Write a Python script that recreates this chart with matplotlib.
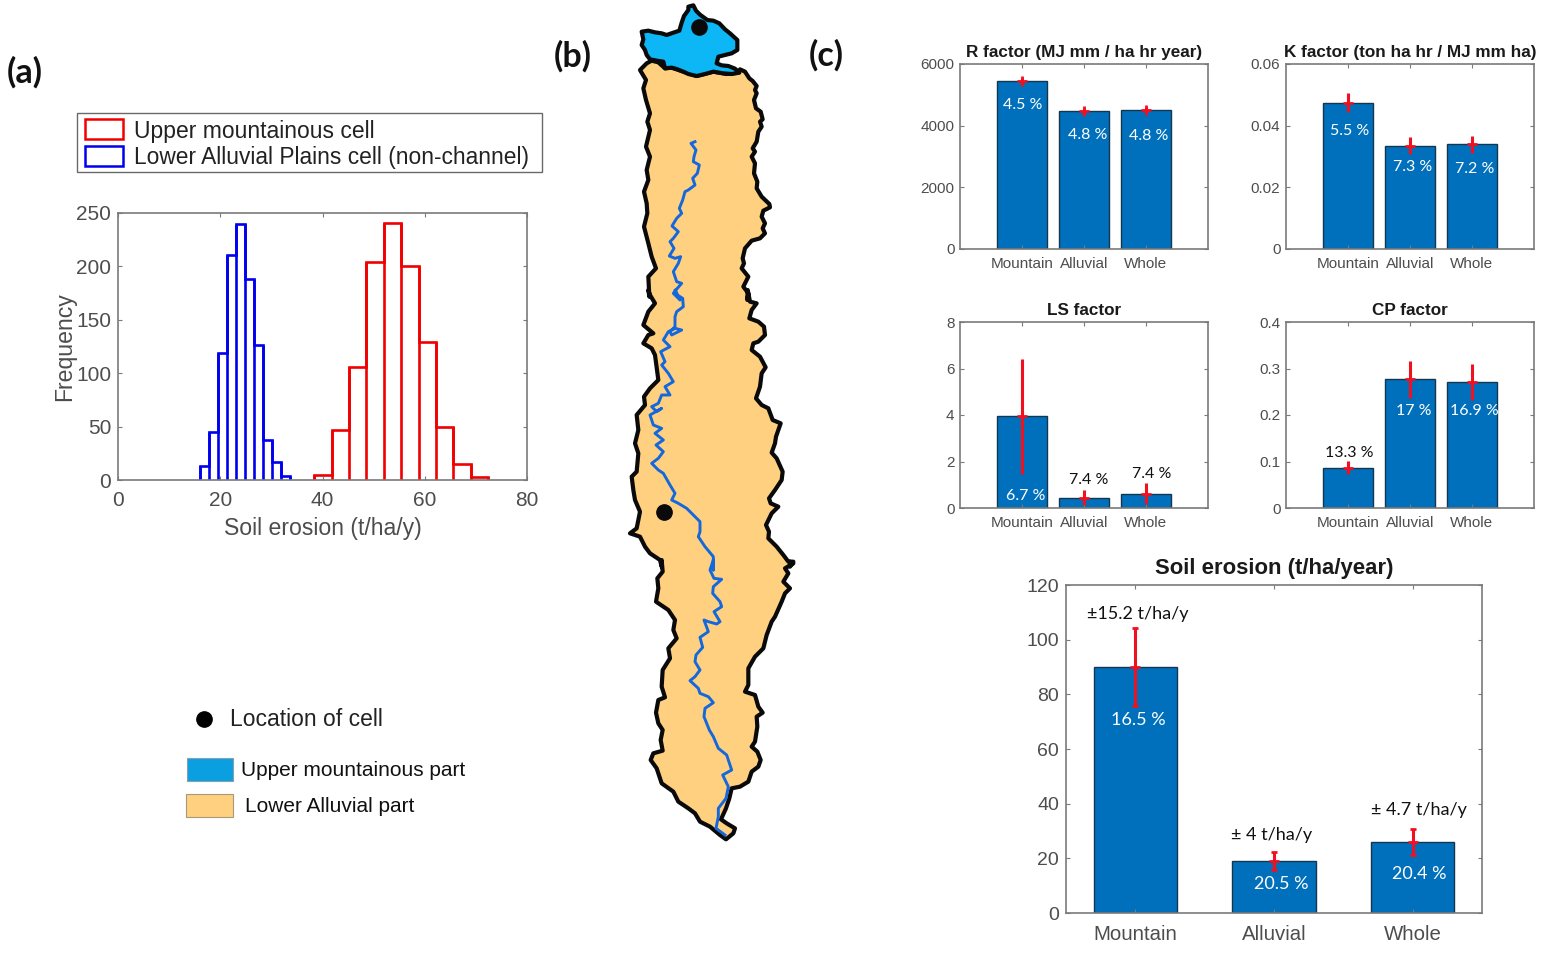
import numpy as np
import matplotlib
matplotlib.use("Agg")
import matplotlib.pyplot as plt
from matplotlib.patches import Rectangle

W, H = 1553, 958
BAR_BLUE = "#0070BC"
AXIS_GREY = "#7a7a7a"
TEXT_GREY = "#4d4d4d"

# panel (a) histograms
blue_edges = [16.1, 17.85, 19.6, 21.3, 23.05, 24.8, 26.55, 28.3, 30.05, 31.8, 33.55]
blue_counts = [13, 45, 119, 211, 240, 188, 126, 37, 17, 4]
red_edges = [38.4, 41.8, 45.2, 48.6, 52.0, 55.4, 58.8, 62.2, 65.6, 69.0, 72.4]
red_counts = [5, 47, 106, 204, 241, 200, 129, 50, 15, 3]

# panel (c) bars
categories = ["Mountain", "Alluvial", "Whole"]
r_vals = [5450, 4470, 4500]
r_err = [90, 90, 90]
k_vals = [0.0475, 0.0335, 0.034]
k_err = [0.003, 0.0027, 0.0028]
ls_vals = [3.95, 0.45, 0.62]
ls_err = [2.47, 0.34, 0.44]
cp_vals = [0.087, 0.277, 0.271]
cp_err = [0.014, 0.04, 0.038]
soil_vals = [90, 19, 26]
soil_err = [14.3, 3.3, 4.6]

# map in three pieces (3x, y start of each piece), converted to pixels below
upper_trace = [(65, 95), (85, 92), (105, 97), (125, 100), (140, 105), (160, 98), (178, 92), (185, 68),
               (192, 48), (205, 30), (205, 20), (220, 16), (228, 32), (240, 44), (262, 60), (280, 62),
               (298, 70), (315, 88), (330, 100), (352, 120), (352, 150), (335, 160), (315, 165),
               (295, 170), (290, 190), (305, 196), (325, 198), (345, 206), (358, 218), (335, 222),
               (310, 220), (280, 215), (255, 222), (230, 228), (205, 222), (190, 215), (170, 207),
               (155, 203), (135, 205), (130, 185), (110, 182), (90, 178), (80, 165), (75, 150),
               (65, 135), (70, 118), (65, 95)]
top_edge = [(60, 210), (80, 190), (95, 182), (115, 187), (135, 205), (155, 203), (190, 215), (230, 228),
            (280, 215), (320, 222), (355, 218), (360, 208)]
right_1 = [(375, 215), (388, 235), (398, 243), (410, 258), (405, 270), (410, 280), (402, 300), (408, 325),
           (422, 335), (428, 358), (420, 365), (425, 380), (415, 395), (410, 425), (398, 445), (405, 455),
           (395, 470), (405, 490), (402, 520), (412, 545), (410, 565), (425, 590), (448, 612), (450, 622),
           (430, 632), (425, 650), (435, 670), (428, 685), (435, 700), (420, 715), (395, 722), (375, 745),
           (368, 775), (372, 790), (365, 805), (385, 830), (375, 850), (370, 860), (385, 880), (382, 900)]
right_2 = [(383, 0), (390, 35), (410, 40), (395, 60), (388, 85), (415, 95), (432, 110), (435, 135),
           (415, 155), (400, 160), (395, 180), (420, 200), (437, 232), (425, 250), (420, 290), (408, 325),
           (425, 345), (445, 355), (458, 390), (482, 400), (475, 420), (468, 440), (465, 460), (455, 488),
           (470, 505), (488, 545), (485, 570), (465, 600), (447, 625), (452, 640), (475, 650), (455, 670),
           (438, 705), (447, 725), (445, 745), (470, 770), (490, 795), (505, 815), (520, 815), (510, 830)]
right_3 = [(510, 5), (520, 10), (495, 25), (505, 40), (490, 65), (510, 85), (495, 100), (485, 125),
           (465, 170), (455, 185), (440, 225), (430, 265), (405, 290), (385, 325), (385, 375), (375, 395),
           (405, 405), (415, 440), (428, 458), (410, 470), (412, 500), (405, 545), (395, 560), (412, 575),
           (422, 600), (415, 620), (395, 635), (385, 665), (360, 680), (335, 685), (328, 715), (318, 745),
           (303, 778), (320, 790), (345, 805), (340, 820), (318, 838)]
left_3 = [(300, 825), (270, 800), (240, 785), (225, 760), (205, 745), (175, 725), (160, 695), (125, 670),
          (110, 625), (92, 600), (100, 580), (128, 572), (122, 540), (128, 510), (115, 490), (108, 458),
          (115, 420), (135, 412), (125, 380), (128, 330), (150, 295), (145, 265), (170, 235), (160, 210),
          (165, 180), (145, 150), (108, 125), (115, 85), (112, 55), (128, 35), (125, 0)]
left_2 = [(125, 830), (120, 810), (90, 790), (75, 770), (60, 740), (30, 730), (50, 715), (55, 690),
          (60, 665), (45, 630), (40, 600), (35, 560), (50, 545), (55, 490), (45, 460), (55, 420), (50, 375),
          (75, 345), (72, 320), (90, 295), (115, 270), (105, 195), (95, 175), (70, 160), (85, 135),
          (100, 130), (70, 105), (85, 65), (105, 40), (90, 15), (85, 0)]
left_1 = [(88, 890), (85, 830), (108, 805), (95, 770), (85, 730), (72, 680), (82, 640), (80, 610), (72, 575),
          (85, 540), (80, 510), (90, 470), (78, 440), (90, 390), (82, 365), (90, 340), (78, 300), (70, 265),
          (78, 240), (60, 210)]
river_1 = [(225, 425), (213, 430), (228, 450), (222, 470), (220, 485), (238, 495), (232, 520), (218, 535),
           (225, 555), (205, 570), (195, 575), (188, 600), (178, 625), (185, 640), (170, 655), (156, 678),
           (175, 695), (160, 715), (150, 725), (162, 745), (148, 768), (165, 775), (182, 770), (175, 790),
           (160, 815), (170, 845), (185, 850), (172, 865), (160, 880), (180, 900)]
river_2 = [(165, 0), (172, 15), (188, 25), (190, 50), (170, 65), (165, 80), (165, 110), (150, 125), (155, 135),
           (185, 120), (165, 115), (145, 125), (130, 150), (150, 170), (122, 185), (135, 215), (125, 225),
           (145, 250), (160, 275), (135, 290), (150, 315), (125, 315), (115, 340), (95, 350), (110, 365),
           (125, 355), (90, 375), (100, 405), (125, 415), (105, 430), (130, 450), (108, 465), (130, 485),
           (115, 505), (95, 520), (115, 540), (130, 550), (150, 585), (165, 610), (155, 630), (175, 640),
           (200, 655), (215, 670), (240, 695), (240, 725), (235, 740), (255, 770), (280, 800), (280, 840)]
river_3 = [(280, 0), (270, 30), (282, 55), (305, 58), (280, 80), (278, 100), (300, 125), (305, 140), (282, 155),
           (300, 185), (290, 192), (265, 185), (252, 180), (265, 215), (240, 232), (248, 262), (228, 285),
           (225, 305), (240, 330), (225, 350), (210, 362), (235, 385), (240, 400), (265, 410), (280, 428),
           (255, 445), (252, 470), (268, 510), (280, 530), (295, 565), (320, 585), (335, 630), (308, 645),
           (325, 680), (318, 715), (295, 745), (295, 770), (288, 805), (315, 825)]
cell_x = [699, 664]
cell_y = [27, 512]


def to_px(trace, top):
    # crops were 3x, starting at x=620 and the given y
    return [(620 + x / 3, top + y / 3) for x, y in trace]


upper_part = to_px(upper_trace, 0)
lower_part = (to_px(top_edge + right_1, 0) + to_px(right_2, 290) + to_px(right_3, 560)
              + to_px(left_3, 560) + to_px(left_2, 290) + to_px(left_1, 0))
river = to_px(river_1, 0) + to_px(river_2, 290) + to_px(river_3, 560)

fig = plt.figure(figsize=(W / 100, H / 100), dpi=100)


def add_axes(left, top, right, bottom):
    return fig.add_axes([left / W, 1 - bottom / H, (right - left) / W, (bottom - top) / H])


def style_axes(ax, tick_size, xpad=6, ypad=5):
    for s in ax.spines.values():
        s.set_color(AXIS_GREY)
        s.set_linewidth(1.2)
    ax.tick_params(direction="in", top=True, right=True, length=3, width=0.8, color=AXIS_GREY,
                   labelsize=tick_size, labelcolor=TEXT_GREY)
    ax.tick_params(axis="x", pad=xpad)
    ax.tick_params(axis="y", pad=ypad)


def bar_panel(box, vals, err, ymax, yticks, ylabels, title, xlim, width, tick_size, title_size, cap,
              xpad=6, ypad=4, title_pad=5, cat_size=None):
    ax = add_axes(*box)
    x = np.arange(1, 4)
    ax.bar(x, vals, width, color=BAR_BLUE, edgecolor="#14364f", linewidth=1)
    ax.errorbar(x, vals, yerr=err, fmt="none", ecolor="#f01020", elinewidth=2.2,
                capsize=cap, capthick=2, zorder=5)
    ax.plot(x, vals, "+", color="#f01020", ms=7, mew=2, zorder=5)
    ax.set_xlim(*xlim)
    ax.set_ylim(0, ymax)
    ax.set_yticks(yticks)
    ax.set_yticklabels(ylabels)
    ax.set_xticks(x)
    ax.set_xticklabels(categories)
    style_axes(ax, tick_size, xpad, ypad)
    if cat_size:
        ax.tick_params(axis="x", labelsize=cat_size)
    ax.set_title(title, fontsize=title_size, fontweight="bold", color="#1a1a1a", pad=title_pad)
    return ax


plt.rcParams["font.family"] = ["Liberation Sans", "DejaVu Sans"]

# (a) histogram
ax_hist = add_axes(118, 213, 527, 480)
ax_hist.stairs(blue_counts, blue_edges, color="#0000ee", linewidth=1.9)
ax_hist.stairs(red_counts, red_edges, color="#f00000", linewidth=1.9)
for edges, counts, c in [(blue_edges, blue_counts, "#0000ee"), (red_edges, red_counts, "#f00000")]:
    ax_hist.vlines(edges[1:-1], 0, np.maximum(counts[:-1], counts[1:]), color=c, linewidth=1.9)
    ax_hist.vlines([edges[0], edges[-1]], 0, [counts[0], counts[-1]], color=c, linewidth=1.9)
ax_hist.set_xlim(0, 80)
ax_hist.set_ylim(0, 250)
ax_hist.set_xticks([0, 20, 40, 60, 80])
ax_hist.set_yticks([0, 50, 100, 150, 200, 250])
style_axes(ax_hist, 15, xpad=8, ypad=5)
ax_hist.set_xlabel("Soil erosion (t/ha/y)", fontsize=16.6, color=TEXT_GREY, labelpad=5)
ax_hist.set_ylabel("Frequency", fontsize=16.6, color=TEXT_GREY, labelpad=0)

# (c) small bars
bar_panel((960, 64, 1208, 249), r_vals, r_err, 6000, [0, 2000, 4000, 6000],
          ["0", "2000", "4000", "6000"], "R factor (MJ mm / ha hr year)", (0, 4), 0.8, 11, 12.3, 0)
bar_panel((1286, 64, 1534, 249), k_vals, k_err, 0.06, [0, 0.02, 0.04, 0.06],
          ["0", "0.02", "0.04", "0.06"], "K factor (ton ha hr / MJ mm ha)", (0, 4), 0.8, 11, 12.3, 0)
bar_panel((960, 322, 1208, 508), ls_vals, ls_err, 8, [0, 2, 4, 6, 8],
          ["0", "2", "4", "6", "8"], "LS factor", (0, 4), 0.8, 11, 12.3, 0)
bar_panel((1286, 322, 1534, 508), cp_vals, cp_err, 0.4, [0, 0.1, 0.2, 0.3, 0.4],
          ["0", "0.1", "0.2", "0.3", "0.4"], "CP factor", (0, 4), 0.8, 11, 12.3, 0)
bar_panel((1066, 585, 1482, 913), soil_vals, soil_err, 120, [0, 20, 40, 60, 80, 100, 120],
          ["0", "20", "40", "60", "80", "100", "120"], "Soil erosion (t/ha/year)", (0.5, 3.5), 0.6,
          14, 15.9, 2, xpad=9, ypad=5, title_pad=8, cat_size=14.7)

# overlay in picture pixels for the map, legends and labels
page = fig.add_axes([0, 0, 1, 1], zorder=10)
page.set_xlim(0, W)
page.set_ylim(H, 0)
page.axis("off")
page.patch.set_alpha(0)

page.fill(*zip(*lower_part), facecolor="#FFD07F", edgecolor="#0a0a0a", linewidth=3, joinstyle="round")
page.fill(*zip(*upper_part), facecolor="#0DB7F5", edgecolor="#0a0a0a", linewidth=3, joinstyle="round")
page.plot(*zip(*river), color="#1568DC", linewidth=2.1, solid_joinstyle="round")
page.plot(cell_x, cell_y, "o", color="#0a0a0a", ms=11)

# panel letters
for x, y, s in [(25, 72, "(a)"), (573, 56, "(b)"), (826, 55, "(c)")]:
    page.text(x, y, s, fontsize=24.5, fontweight="bold", family="Lato", ha="center", va="center", color="#111111")

# histogram legend
page.add_patch(Rectangle((77, 113), 465, 59, fc="white", ec="#6a6a6a", lw=1))
page.add_patch(Rectangle((85, 119), 38, 20, fc="white", ec="#f00000", lw=1.8))
page.add_patch(Rectangle((85, 146), 38, 20, fc="white", ec="#0000ee", lw=1.8))
page.text(134, 131, "Upper mountainous cell", fontsize=16.5, va="center", color="#222222")
page.text(134, 157, "Lower Alluvial Plains cell (non-channel)", fontsize=16.4, va="center", color="#222222")

# map legend
page.plot([204], [719], "o", color="black", ms=11)
page.text(230, 720, "Location of cell", fontsize=16.5, va="center", color="#222222")
page.add_patch(Rectangle((187, 758), 46, 23, fc="#0A9FE0", ec="#8aa0b0", lw=0.8))
page.text(241, 771, "Upper mountainous part", fontsize=15, va="center", color="#111111")
page.add_patch(Rectangle((186, 794), 47, 23, fc="#FFD07F", ec="#a89a78", lw=0.8))
page.text(245, 806, "Lower Alluvial part", fontsize=15, va="center", color="#111111")

# percentages on the bars
white_small = [(1023, 105, "4.5 %"), (1088, 135, "4.8 %"), (1149, 136, "4.8 %"),
               (1350, 131, "5.5 %"), (1413, 167, "7.3 %"), (1475, 169, "7.2 %"),
               (1026, 496, "6.7 %"), (1414, 411, "17 %"), (1474, 411, "16.9 %")]
for x, y, s in white_small:
    page.text(x, y, s, fontsize=11.5, family="Lato", color="white", ha="center", va="center")
for x, y, s in [(1089, 480, "7.4 %"), (1152, 474, "7.4 %"), (1349, 453, "13.3 %")]:
    page.text(x, y, s, fontsize=11.5, family="Lato", color="#111111", ha="center", va="center")
for x, y, s in [(1138, 720, "16.5 %"), (1281, 884, "20.5 %"), (1419, 874, "20.4 %")]:
    page.text(x, y, s, fontsize=13, family="Lato", color="white", ha="center", va="center")
for x, y, s in [(1138, 614, "±15.2 t/ha/y"), (1272, 835, "± 4 t/ha/y"), (1419, 810, "± 4.7 t/ha/y")]:
    page.text(x, y, s, fontsize=13, family="Lato", color="#111111", ha="center", va="center")

fig.savefig("out.png", dpi=100)
